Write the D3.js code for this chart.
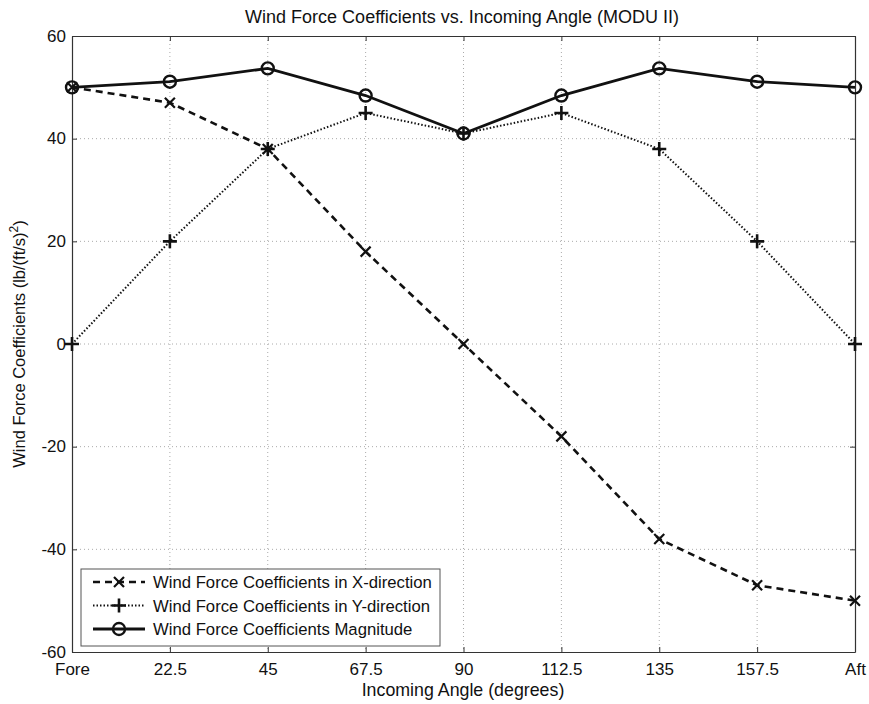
<!DOCTYPE html>
<html>
<head>
<meta charset="utf-8">
<script src="https://cdn.jsdelivr.net/npm/d3@7"></script>
<style>
  body { margin: 0; background: #fff; }
  svg { font-family: "Liberation Sans", Arial, sans-serif; }
</style>
</head>
<body>
<svg id="chart" width="869" height="704"></svg>
<script>
// Incoming angle positions and their tick labels
const angles = [0, 22.5, 45, 67.5, 90, 112.5, 135, 157.5, 180];
const angleLabels = ["Fore", "22.5", "45", "67.5", "90", "112.5", "135", "157.5", "Aft"];
const yTicks = [-60, -40, -20, 0, 20, 40, 60];

// Wind force coefficients, lb/(ft/s)^2
const coefX = [50, 47, 38, 18, 0, -18, -38, -47, -50];
const coefY = [0, 20, 38, 45, 41, 45, 38, 20, 0];
const coefMag = [50, 51.1, 53.7, 48.4, 41, 48.4, 53.7, 51.1, 50];

const seriesNames = [
  "Wind Force Coefficients in X-direction",
  "Wind Force Coefficients in Y-direction",
  "Wind Force Coefficients Magnitude"
];

const svg = d3.select("#chart");
const plotLeft = 72, plotRight = 855, plotTop = 36, plotBottom = 652;

const x = d3.scaleLinear().domain([0, 180]).range([plotLeft, plotRight]);
const y = d3.scaleLinear().domain([-60, 60]).range([plotBottom, plotTop]);

// Dotted grid
const grid = svg.append("g").attr("stroke", "#aaa").attr("stroke-width", 1)
  .attr("stroke-dasharray", "1,3");
angles.slice(1, -1).forEach(a => {
  grid.append("line").attr("x1", x(a)).attr("x2", x(a)).attr("y1", plotTop).attr("y2", plotBottom);
});
yTicks.slice(1, -1).forEach(v => {
  grid.append("line").attr("x1", plotLeft).attr("x2", plotRight).attr("y1", y(v)).attr("y2", y(v));
});

// Axes with inward ticks
const xAxis = d3.axisBottom(x).tickValues(angles).tickFormat((d, i) => angleLabels[i])
  .tickSizeInner(-5).tickSizeOuter(0).tickPadding(10);
const gx = svg.append("g").attr("transform", `translate(0,${plotBottom})`).call(xAxis);
const xTop = d3.axisTop(x).tickValues(angles).tickFormat("").tickSizeInner(-5).tickSizeOuter(0);
const gxt = svg.append("g").attr("transform", `translate(0,${plotTop})`).call(xTop);
const yAxis = d3.axisLeft(y).tickValues(yTicks).tickFormat(d => String(d))
  .tickSizeInner(-5).tickSizeOuter(0).tickPadding(6);
const gy = svg.append("g").attr("transform", `translate(${plotLeft},0)`).call(yAxis);
const yRight = d3.axisRight(y).tickValues(yTicks).tickFormat("").tickSizeInner(-5).tickSizeOuter(0);
const gyr = svg.append("g").attr("transform", `translate(${plotRight},0)`).call(yRight);

[gx, gxt, gy, gyr].forEach(g => {
  g.select(".domain").attr("stroke", "#333").attr("stroke-width", 1.2);
  g.selectAll(".tick line").attr("stroke", "#333").attr("stroke-width", 1);
  g.selectAll("text").attr("font-size", 17).attr("fill", "#111")
    .attr("font-family", "'Liberation Sans', Arial, sans-serif");
});
gx.selectAll(".tick text").attr("dy", "0.74em");
gy.selectAll(".tick text").attr("dy", "0.3em");

// Marker shapes
function drawMarker(g, kind, cx, cy) {
  if (kind === "x") {
    const s = 5;
    g.append("path").attr("d", `M${cx - s},${cy - s}L${cx + s},${cy + s}M${cx - s},${cy + s}L${cx + s},${cy - s}`)
      .attr("stroke", "#111").attr("stroke-width", 2.2).attr("fill", "none");
  } else if (kind === "plus") {
    const s = 7;
    g.append("path").attr("d", `M${cx - s},${cy}L${cx + s},${cy}M${cx},${cy - s}L${cx},${cy + s}`)
      .attr("stroke", "#111").attr("stroke-width", 2.6).attr("fill", "none");
  } else {
    g.append("circle").attr("cx", cx).attr("cy", cy).attr("r", 6)
      .attr("stroke", "#111").attr("stroke-width", 2.4).attr("fill", "none");
  }
}

const series = [
  { values: coefX, dash: "7,5", width: 2.6, marker: "x" },
  { values: coefY, dash: "1.5,2", width: 2, marker: "plus" },
  { values: coefMag, dash: null, width: 2.8, marker: "o" }
];

const line = d3.line().x((d, i) => x(angles[i])).y(d => y(d));
const plot = svg.append("g");
series.forEach(s => {
  plot.append("path").datum(s.values).attr("d", line)
    .attr("fill", "none").attr("stroke", "#111").attr("stroke-width", s.width)
    .attr("stroke-dasharray", s.dash);
  const mg = plot.append("g");
  s.values.forEach((v, i) => drawMarker(mg, s.marker, x(angles[i]), y(v)));
});

// Legend
const lg = svg.append("g");
lg.append("rect").attr("x", 81).attr("y", 569).attr("width", 359).attr("height", 77)
  .attr("fill", "#fff").attr("stroke", "#555").attr("stroke-width", 1);
series.forEach((s, i) => {
  const ly = 582 + i * 23.5;
  lg.append("line").attr("x1", 93).attr("x2", 145).attr("y1", ly).attr("y2", ly)
    .attr("stroke", "#111").attr("stroke-width", s.width).attr("stroke-dasharray", s.dash);
  drawMarker(lg, s.marker, 119, ly);
  lg.append("text").attr("x", 153).attr("y", ly).attr("dy", "0.36em")
    .attr("font-size", 16.7).attr("fill", "#111").text(seriesNames[i]);
});

// Titles
svg.append("text").attr("x", 462).attr("y", 23).attr("text-anchor", "middle")
  .attr("font-size", 18).attr("fill", "#111")
  .text("Wind Force Coefficients vs. Incoming Angle (MODU II)");
svg.append("text").attr("x", 463).attr("y", 696).attr("text-anchor", "middle")
  .attr("font-size", 17.8).attr("fill", "#111").text("Incoming Angle (degrees)");

const yl = svg.append("text").attr("transform", "translate(25,344) rotate(-90)")
  .attr("text-anchor", "middle").attr("font-size", 16.5).attr("fill", "#111");
yl.append("tspan").text("Wind Force Coefficients (lb/(ft/s)");
yl.append("tspan").attr("font-size", 12).attr("dy", -7).text("2");
yl.append("tspan").attr("dy", 7).text(")");
</script>
</body>
</html>
